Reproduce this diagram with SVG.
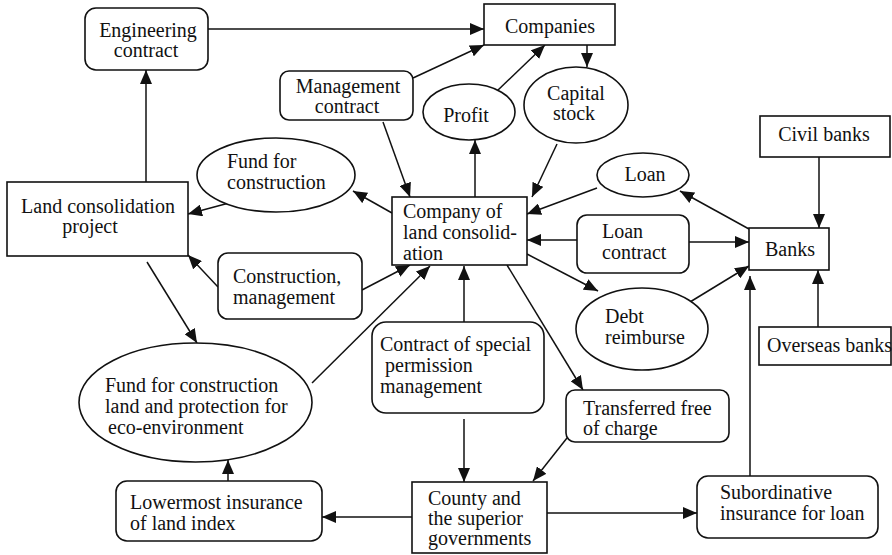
<svg xmlns="http://www.w3.org/2000/svg" width="892" height="555" viewBox="0 0 892 555">
<style>
text{font-family:"Liberation Serif","Times New Roman",serif;font-size:20px;fill:#111}
.c{text-anchor:middle}
.n{fill:#fff;stroke:#111;stroke-width:1.6}
.e path,.e line{stroke:#111;stroke-width:1.5;fill:none;marker-end:url(#ah)}
</style>
<defs>
<marker id="ah" viewBox="0 0 14 12" refX="14" refY="6" markerWidth="14" markerHeight="12" markerUnits="userSpaceOnUse" orient="auto"><path d="M0,0 L14,6 L0,12 z" fill="#111"/></marker>
</defs>
<rect width="892" height="555" fill="#fff"/>
<g id="edges" class="e">
<line x1="208" y1="29" x2="484" y2="29"/>
<line x1="413" y1="78" x2="484" y2="45"/>
<line x1="497" y1="91" x2="545" y2="45"/>
<line x1="587" y1="45" x2="587" y2="67"/>
<line x1="557" y1="144" x2="532" y2="197"/>
<line x1="383" y1="122" x2="410" y2="197"/>
<line x1="475" y1="197" x2="475" y2="140"/>
<line x1="392" y1="213" x2="353" y2="191"/>
<line x1="229" y1="203" x2="188" y2="214"/>
<line x1="146" y1="182" x2="146" y2="70"/>
<line x1="218" y1="287" x2="188" y2="255"/>
<line x1="362" y1="290" x2="410" y2="265"/>
<line x1="147" y1="262" x2="197" y2="343"/>
<line x1="312" y1="383" x2="430" y2="266"/>
<line x1="464" y1="322" x2="464" y2="266"/>
<line x1="464" y1="419" x2="464" y2="482"/>
<line x1="507" y1="265" x2="583" y2="390"/>
<line x1="567" y1="438" x2="533" y2="481"/>
<line x1="527" y1="254" x2="598" y2="291"/>
<line x1="690" y1="302" x2="749" y2="266"/>
<line x1="577" y1="240" x2="527" y2="240"/>
<line x1="689" y1="242" x2="749" y2="242"/>
<line x1="749" y1="229" x2="680" y2="191"/>
<line x1="597" y1="188" x2="527" y2="214"/>
<line x1="819" y1="157" x2="819" y2="228"/>
<line x1="818" y1="327" x2="818" y2="270"/>
<line x1="750" y1="476" x2="750" y2="276"/>
<line x1="412" y1="517" x2="322" y2="517"/>
<line x1="228" y1="481" x2="228" y2="460"/>
<line x1="547" y1="513" x2="697" y2="513"/>
</g>
<g id="engineering-contract"><rect class="n" x="85" y="8" width="123" height="62" rx="11"/><text class="c" x="148" y="37">Engineering</text><text class="c" x="146" y="57">contract</text></g>
<g id="companies"><rect class="n" x="484" y="4" width="131" height="41"/><text class="c" x="550" y="33">Companies</text></g>
<g id="management-contract"><rect class="n" x="280" y="71" width="133" height="49" rx="9"/><text class="c" x="348" y="93">Management</text><text class="c" x="347" y="113">contract</text></g>
<g id="profit"><ellipse class="n" cx="469" cy="112" rx="46" ry="28"/><text class="c" x="466" y="122">Profit</text></g>
<g id="capital-stock"><ellipse class="n" cx="576" cy="105" rx="52" ry="38"/><text class="c" x="576" y="100">Capital</text><text class="c" x="574" y="120">stock</text></g>
<g id="civil-banks"><rect class="n" x="760" y="116" width="130" height="41"/><text class="c" x="824" y="141">Civil banks</text></g>
<g id="fund-construction"><ellipse class="n" cx="276" cy="175" rx="79" ry="37"/><text x="227" y="168">Fund for</text><text x="227" y="189">construction</text></g>
<g id="land-project"><rect class="n" x="7" y="182" width="181" height="74"/><text class="c" x="98" y="213">Land consolidation</text><text class="c" x="90" y="233">project</text></g>
<g id="company-land"><rect class="n" x="392" y="197" width="135" height="68"/><text x="403" y="218">Company of</text><text x="403" y="239">land consolid-</text><text x="403" y="260">ation</text></g>
<g id="loan"><ellipse class="n" cx="643" cy="175" rx="46" ry="22"/><text class="c" x="645" y="181">Loan</text></g>
<g id="loan-contract"><rect class="n" x="577" y="215" width="112" height="58" rx="10"/><text x="602" y="238">Loan</text><text x="602" y="259">contract</text></g>
<g id="banks"><rect class="n" x="749" y="228" width="80" height="42"/><text class="c" x="790" y="256">Banks</text></g>
<g id="construction-management"><rect class="n" x="218" y="253" width="144" height="66" rx="10"/><text x="233" y="283">Construction,</text><text x="233" y="304">management</text></g>
<g id="debt-reimburse"><ellipse class="n" cx="642" cy="329" rx="66" ry="41"/><text x="605" y="323">Debt</text><text x="605" y="344">reimburse</text></g>
<g id="overseas-banks"><rect class="n" x="759" y="327" width="132" height="38"/><text x="767" y="352">Overseas banks</text></g>
<g id="contract-special"><rect class="n" x="372" y="322" width="172" height="91" rx="14"/><text x="380" y="351">Contract of special</text><text x="385" y="372">permission</text><text x="380" y="393">management</text></g>
<g id="fund-eco"><ellipse class="n" cx="195.5" cy="402.5" rx="116.5" ry="59.5"/><text x="105" y="392">Fund for construction</text><text x="105" y="413">land and protection for</text><text x="108" y="434">eco-environment</text></g>
<g id="transferred"><rect class="n" x="566" y="390" width="163" height="52" rx="9"/><text x="583" y="415">Transferred free</text><text x="583" y="435">of charge</text></g>
<g id="subordinative"><rect class="n" x="697" y="476" width="181" height="62" rx="11"/><text x="720" y="499">Subordinative</text><text x="720" y="520">insurance for loan</text></g>
<g id="lowermost"><rect class="n" x="116" y="481" width="206" height="60" rx="11"/><text x="130" y="509">Lowermost insurance</text><text x="130" y="530">of land index</text></g>
<g id="county"><rect class="n" x="412" y="482" width="135" height="71"/><text x="428" y="505">County and</text><text x="428" y="525">the superior</text><text x="428" y="545">governments</text></g>
</svg>
